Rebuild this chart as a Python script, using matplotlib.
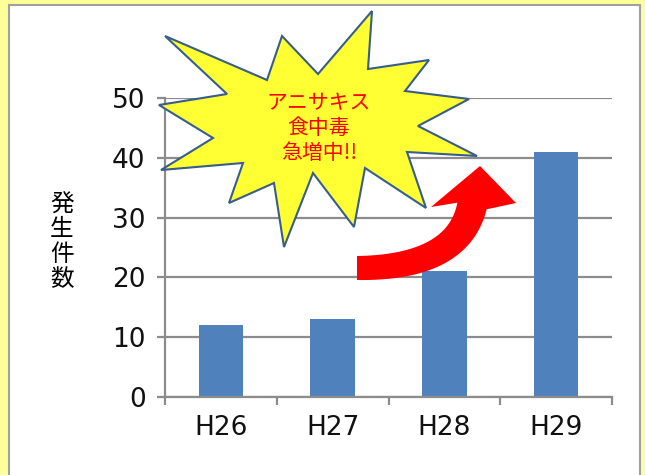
import matplotlib.pyplot as plt
import numpy as np
from matplotlib.patches import Polygon, Rectangle

# data
years = ["H26", "H27", "H28", "H29"]
counts = [12, 13, 21, 41]
y_ticks = [0, 10, 20, 30, 40, 50]

W, H = 645, 475
fig = plt.figure(figsize=(W / 100, H / 100), dpi=100)
fig.patch.set_facecolor("#FFFF99")
CJK = ["Noto Sans CJK JP", "DejaVu Sans"]


def px(points):
    # image pixel coords (y down) -> figure fraction
    p = np.asarray(points, dtype=float)
    return np.column_stack([p[:, 0] / W, 1 - p[:, 1] / H])


# white panel with grey border
panel = Rectangle((9 / W, -0.01), 631 / W, 1 - 5 / H + 0.01,
                  transform=fig.transFigure, facecolor="white",
                  edgecolor="#A0A0A0", lw=1.5, zorder=-1)
fig.add_artist(panel)

ax = fig.add_axes([165 / W, 1 - 397 / H, 447 / W, 299 / H])
ax.set_facecolor("none")
x = np.arange(len(years))
ax.bar(x, counts, width=0.4, color="#4F81BD", zorder=2)
ax.set_xlim(-0.5, 3.5)
ax.set_ylim(0, 50)
ax.set_yticks(y_ticks)
ax.grid(axis="y", color="#8C8C8C", lw=1.6, zorder=0)
ax.set_axisbelow(True)
for s in ["top", "right"]:
    ax.spines[s].set_visible(False)
for s in ["left", "bottom"]:
    ax.spines[s].set_color("#8C8C8C")
    ax.spines[s].set_linewidth(1.6)
ax.set_xticks(x)
ax.set_xticklabels(years)
ax.set_xticks(np.arange(-0.5, 4.0, 1.0), minor=True)
ax.tick_params(axis="x", which="major", length=0, pad=13)
ax.tick_params(axis="x", which="minor", length=6, width=1.6,
               color="#8C8C8C", direction="out")
ax.tick_params(axis="y", length=6, width=1.6, color="#8C8C8C",
               direction="out", pad=8)
for lab in ax.get_xticklabels() + ax.get_yticklabels():
    lab.set_fontsize(19)
    lab.set_color("#111111")

fig.text(62 / W, 1 - 242 / H, "発\n生\n件\n数", ha="center", va="center",
         fontsize=17, linespacing=1.1, family=CJK)

# starburst callout
star = [(165, 36), (267, 80), (282, 36), (318, 74), (372, 11), (368, 69),
        (429, 60), (405, 91), (469, 99), (418, 126), (477, 156), (407, 152),
        (426, 208), (365, 168), (354, 227), (313, 173), (284, 247), (274, 183),
        (229, 203), (243, 163), (161, 170), (213, 138), (159, 105), (227, 94)]
fig.add_artist(Polygon(px(star), closed=True, transform=fig.transFigure,
                       facecolor="#FFFF33", edgecolor="#385D8A", lw=1.5,
                       zorder=3))
fig.text(319 / W, 1 - 128 / H, "アニサキス\n食中毒\n急増中!!", ha="center",
         va="center", color="#FF0000", fontsize=15, linespacing=1.2,
         family=CJK, zorder=4)

# red curved arrow
t = np.linspace(0, 1, 40)
p0, p1, p2 = np.array([357, 268.0]), np.array([458, 268.0]), np.array([472, 206.0])
c = ((1 - t) ** 2)[:, None] * p0 + (2 * (1 - t) * t)[:, None] * p1 + (t ** 2)[:, None] * p2
d = (2 * (1 - t))[:, None] * (p1 - p0) + (2 * t)[:, None] * (p2 - p1)
d /= np.linalg.norm(d, axis=1)[:, None]
n = np.column_stack([d[:, 1], -d[:, 0]])
half = 12 + 3 * t
outer = c - n * half[:, None]
inner = c + n * half[:, None]
arrow = np.vstack([outer, [(516, 203)], [(480, 166)], [(431, 207)], inner[::-1]])
fig.add_artist(Polygon(px(arrow), closed=True, transform=fig.transFigure,
                       facecolor="#FF0000", edgecolor="none", zorder=3))

fig.savefig("out.png", dpi=100)
